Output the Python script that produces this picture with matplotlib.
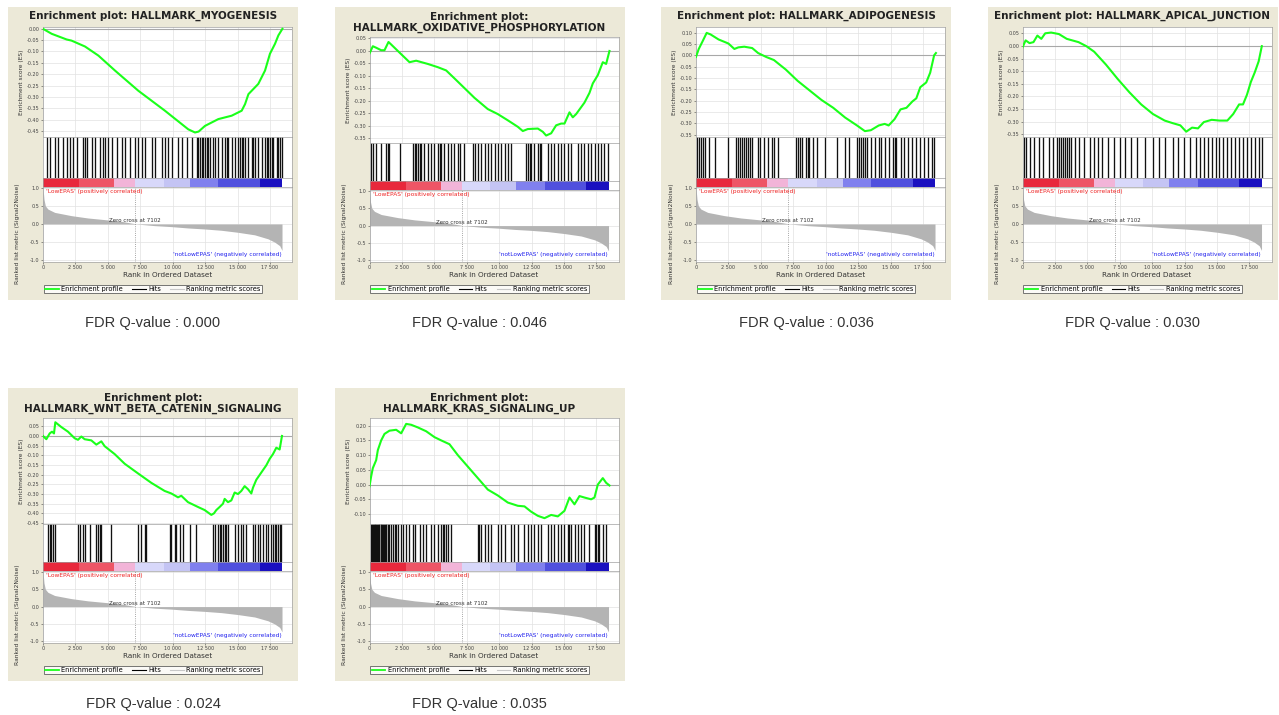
import matplotlib
matplotlib.use("Agg")
import matplotlib.pyplot as plt
from matplotlib.lines import Line2D
from matplotlib.patches import Rectangle
from matplotlib.ticker import MultipleLocator, FuncFormatter

W, H = 1279, 715

# ---- shared ranked list metric (same dataset for every gene set) ----
metric_rank = [0, 77, 180, 385, 900, 2185, 3470, 4754, 6040, 7070, 7196, 8610, 9895,
               11180, 12465, 13750, 15035, 16320, 17350, 17860, 18250, 18430]
metric_val = [1.0, 0.68, 0.50, 0.41, 0.32, 0.23, 0.165, 0.12, 0.073, 0.009, 0.0, -0.046, -0.073,
              -0.11, -0.138, -0.174, -0.23, -0.30, -0.41, -0.50, -0.60, -0.73]
zero_cross = 7100

# colour bar of the ranked list (segment edges in rank units)
bar_edges = [0, 2800, 5500, 7100, 9300, 11300, 13500, 16700, 18450]
bar_colors = ['#e8283c', '#ee5566', '#f2b4d8', '#d8d8fa', '#c4c4f4', '#8080ee', '#5050de', '#1a10c0']

# ---- gene sets ----
titles = ["Enrichment plot: HALLMARK_MYOGENESIS",
          "Enrichment plot:\nHALLMARK_OXIDATIVE_PHOSPHORYLATION",
          "Enrichment plot: HALLMARK_ADIPOGENESIS",
          "Enrichment plot: HALLMARK_APICAL_JUNCTION",
          "Enrichment plot:\nHALLMARK_WNT_BETA_CATENIN_SIGNALING",
          "Enrichment plot:\nHALLMARK_KRAS_SIGNALING_UP"]
fdr_q = ["0.000", "0.046", "0.036", "0.030", "0.024", "0.035"]
es_ylims = [(-0.479, 0.008), (-0.368, 0.056), (-0.363, 0.125),
            (-0.363, 0.075), (-0.455, 0.093), (-0.133, 0.226)]

myo_rank = [0, 670, 1820, 2200, 3240, 4270, 5550, 7350, 9400, 11200, 11720, 12000, 12490,
            13520, 14550, 15320, 15580, 15840, 16600, 17120, 17500, 17890, 18150, 18460]
myo_es = [0.0, -0.022, -0.047, -0.052, -0.078, -0.118, -0.184, -0.273, -0.361, -0.443, -0.457,
          -0.453, -0.428, -0.398, -0.383, -0.361, -0.332, -0.288, -0.243, -0.184, -0.11,
          -0.066, -0.029, 0.0]
myo_hits = [280, 540, 920, 1180, 1570, 1820, 2080, 2340, 2600, 3110, 3240, 3370, 3750, 4010,
            4400, 4650, 4780, 5040, 5290, 5680, 6070, 6320, 6710, 7090, 7350, 7610, 7860,
            8380, 8640, 9150, 9410, 9660, 9920, 10430, 10690, 11080, 11460, 11850, 11950,
            12100, 12230, 12360, 12490, 12620, 12750, 12880, 13130, 13260, 13520, 13780,
            14030, 14160, 14290, 14550, 14800, 15060, 15190, 15320, 15450, 15570, 15830,
            16090, 16220, 16350, 16600, 16860, 17120, 17250, 17370, 17500, 17630, 17760,
            18020, 18140, 18270, 18400]

oxp_rank = [0, 257, 514, 900, 1157, 1465, 1670, 2185, 3084, 3598, 4497, 5268, 5911, 6553,
            7324, 8095, 9122, 9894, 10665, 11436, 11822, 12207, 12978, 13364, 13621, 14007,
            14392, 14778, 15035, 15420, 15677, 15934, 16576, 16962, 17219, 17604, 17990,
            18247, 18504]
oxp_es = [-0.010, 0.019, 0.013, 0.003, 0.003, 0.036, 0.026, 0.0, -0.045, -0.039, -0.052,
          -0.065, -0.078, -0.110, -0.149, -0.188, -0.233, -0.253, -0.278, -0.304, -0.321,
          -0.313, -0.311, -0.324, -0.339, -0.330, -0.298, -0.291, -0.291, -0.246, -0.266,
          -0.253, -0.207, -0.168, -0.130, -0.097, -0.045, -0.052, 0.0]
oxp_hits = [130, 260, 510, 900, 1290, 1410, 1540, 2390, 3340, 3470, 3600, 3730, 3860, 3980,
            4240, 4500, 4750, 5010, 5270, 5400, 5530, 5780, 6040, 6300, 6550, 6810, 6940,
            7320, 7970, 8100, 8350, 8610, 8870, 9120, 9380, 9640, 9890, 10150, 10410, 10670,
            10920, 12080, 12210, 12340, 12460, 12720, 12980, 13110, 13240, 13750, 14010,
            14260, 14520, 14780, 15030, 15290, 15550, 16060, 16320, 16570, 16830, 17090,
            17350, 17600, 17860, 18120, 18380]

adi_rank = [0, 213, 518, 823, 1128, 1738, 2501, 2958, 3263, 3721, 4331, 4788, 5398, 6009,
            6923, 7838, 8754, 9669, 10583, 11498, 12413, 13024, 13481, 14091, 14549, 14854,
            15311, 15769, 16226, 16684, 16989, 17294, 17752, 18057, 18362, 18500]
adi_es = [-0.007, 0.028, 0.063, 0.099, 0.092, 0.070, 0.052, 0.028, 0.035, 0.038, 0.032,
          0.010, -0.007, -0.021, -0.063, -0.113, -0.155, -0.197, -0.232, -0.275, -0.310,
          -0.335, -0.331, -0.310, -0.303, -0.310, -0.282, -0.239, -0.232, -0.204, -0.190,
          -0.141, -0.120, -0.077, 0.0, 0.01]
adi_hits = [60, 210, 370, 520, 670, 980, 1430, 2500, 3110, 3260, 3420, 3570, 3720, 3870,
            4030, 4180, 4330, 4790, 4940, 5250, 5550, 5860, 6010, 6310, 7690, 7840, 7990,
            8140, 8450, 8600, 8750, 9060, 9360, 9970, 10890, 11500, 11800, 12410, 12570,
            12720, 12870, 13020, 13180, 13480, 13790, 14090, 14240, 14550, 14850, 15160,
            15310, 15460, 15770, 16070, 16380, 16680, 16990, 17290, 17600, 17900, 18210, 18360]

api_rank = [0, 242, 544, 846, 1148, 1450, 1752, 2205, 2809, 3413, 4320, 4924, 5527, 6433,
            7339, 8245, 9151, 10057, 10963, 11567, 12171, 12624, 13077, 13530, 13983, 14587,
            15191, 15795, 16248, 16701, 17003, 17305, 17607, 17909, 18211, 18453]
api_es = [-0.006, 0.022, 0.011, 0.015, 0.041, 0.028, 0.050, 0.053, 0.047, 0.028, 0.015,
          -0.001, -0.023, -0.074, -0.131, -0.184, -0.232, -0.270, -0.296, -0.306, -0.315,
          -0.340, -0.324, -0.327, -0.302, -0.293, -0.296, -0.296, -0.270, -0.232, -0.232,
          -0.194, -0.143, -0.105, -0.061, -0.001]
api_hits = [90, 240, 540, 850, 1300, 1600, 2050, 2360, 2660, 2810, 2960, 3110, 3260, 3410,
            3560, 3710, 4020, 4320, 4770, 5220, 5530, 5830, 6130, 6580, 7040, 7490, 7940,
            8400, 8850, 9450, 10060, 10510, 10960, 11570, 12020, 12470, 12930, 13380, 13680,
            13980, 14280, 14590, 14890, 15190, 15490, 15790, 16100, 16400, 16700, 17000,
            17300, 17610, 17910, 18210, 18450]

wnt_rank = [0, 257, 514, 694, 848, 951, 1414, 1928, 2442, 2699, 2956, 3212, 3727, 4112,
            4498, 4754, 5526, 6297, 7325, 8353, 9381, 9895, 10409, 10666, 11180, 11951,
            12465, 12979, 13184, 13364, 13621, 13878, 14007, 14264, 14521, 14778, 15035,
            15292, 15549, 15806, 16062, 16191, 16448, 16705, 16962, 17219, 17476, 17733,
            17990, 18247, 18427]
wnt_es = [0.0, -0.017, 0.013, 0.022, 0.013, 0.071, 0.046, 0.022, -0.012, -0.020, -0.003,
          -0.017, -0.023, -0.045, -0.028, -0.053, -0.094, -0.144, -0.194, -0.243, -0.285,
          -0.298, -0.318, -0.310, -0.343, -0.368, -0.384, -0.409, -0.401, -0.384, -0.368,
          -0.351, -0.326, -0.343, -0.334, -0.293, -0.301, -0.285, -0.260, -0.276, -0.298,
          -0.268, -0.227, -0.202, -0.177, -0.152, -0.119, -0.094, -0.061, -0.070, 0.0]
wnt_hits = [390, 510, 640, 770, 900, 2700, 2830, 3080, 3210, 3600, 4110, 4240, 4370, 4500,
            5270, 7320, 7580, 7840, 7970, 9770, 9890, 10150, 10280, 10540, 10790, 11310,
            11820, 13110, 13240, 13490, 13620, 13750, 13880, 14010, 14140, 14260, 14780,
            15030, 15290, 15420, 15680, 16190, 16320, 16580, 16710, 16960, 17220, 17350,
            17600, 17730, 17860, 17990, 18120, 18250, 18380]

kra_rank = [0, 128, 257, 514, 643, 900, 1157, 1542, 2056, 2442, 2827, 3212, 3727, 4369,
            5011, 5526, 6168, 6810, 7582, 8353, 9124, 9895, 10666, 11437, 11951, 12465,
            12979, 13493, 14007, 14521, 15035, 15420, 15806, 16191, 16577, 17091, 17347,
            17604, 17990, 18247, 18504]
kra_es = [-0.006, 0.028, 0.056, 0.083, 0.117, 0.150, 0.172, 0.183, 0.186, 0.174, 0.206,
          0.203, 0.194, 0.181, 0.161, 0.150, 0.137, 0.100, 0.061, 0.022, -0.017, -0.037,
          -0.061, -0.072, -0.074, -0.092, -0.106, -0.114, -0.103, -0.108, -0.089, -0.044,
          -0.067, -0.039, -0.044, -0.050, -0.044, 0.0, 0.022, 0.006, -0.003]
kra_hits = [130, 200, 260, 330, 390, 460, 510, 590, 640, 720, 770, 850, 900, 980, 1030,
            1110, 1160, 1240, 1290, 1410, 1540, 1670, 1800, 1930, 2060, 2180, 2440, 2570,
            2830, 3080, 3340, 3470, 3860, 4110, 4370, 4750, 5010, 5270, 5530, 5650, 5780,
            5910, 6040, 6300, 8350, 8480, 8610, 8870, 9120, 9380, 9890, 10150, 10410, 10920,
            11180, 11440, 11950, 12210, 12460, 12720, 12980, 13240, 13750, 14010, 14260,
            14520, 14780, 15030, 15290, 15420, 15550, 15810, 16060, 16320, 16570, 16960,
            17350, 17480, 17600, 17730, 17990, 18250]

es_ranks = [myo_rank, oxp_rank, adi_rank, api_rank, wnt_rank, kra_rank]
es_scores = [myo_es, oxp_es, adi_es, api_es, wnt_es, kra_es]
hit_lists = [myo_hits, oxp_hits, adi_hits, api_hits, wnt_hits, kra_hits]

BEIGE = '#ece9d8'
GRID = '#e2e2e2'
XMAX = 19200

fig = plt.figure(figsize=(W / 100, H / 100), dpi=100)
fig.patch.set_facecolor('white')


def px_axes(left, top, width, height):
    return fig.add_axes([left / W, 1 - (top + height) / H, width / W, height / H])


def thin_frame(ax):
    for s in ax.spines.values():
        s.set_color('#a0a0a0')
        s.set_linewidth(0.5)
    ax.tick_params(labelsize=3.5, length=1.5, width=0.4, pad=1, colors='#444444')


def draw_panel(ox, oy, i):
    fig.add_artist(Rectangle((ox / W, 1 - (oy + 293) / H), 290 / W, 293 / H,
                             transform=fig.transFigure, facecolor=BEIGE,
                             edgecolor='none', zorder=-5))
    two_lines = '\n' in titles[i]
    fig.text((ox + 145) / W, 1 - (oy + (15.5 if two_lines else 8.7)) / H, titles[i],
             ha='center', va='center', fontsize=7.5, fontweight='bold', color='#222222',
             linespacing=1.0)

    top = oy + (30 if two_lines else 20)
    total = oy + 255 - top
    h_es, h_hit, h_bar = total * 110 / 234, total * 40 / 234, total * 9 / 234
    h_met = total - h_es - h_hit - h_bar
    left, width = ox + 35, 249

    # enrichment score
    ax = px_axes(left, top, width, h_es)
    ax.plot(es_ranks[i], es_scores[i], color='#1aff1a', lw=1.5, zorder=3)
    ax.axhline(0, color='#a8a8a8', lw=0.8, zorder=2)
    ax.set_xlim(0, XMAX)
    ax.set_ylim(*es_ylims[i])
    ax.xaxis.set_major_locator(MultipleLocator(2500))
    ax.yaxis.set_major_locator(MultipleLocator(0.05))
    ax.yaxis.set_major_formatter(FuncFormatter(lambda v, p: f"{v:.2f}"))
    ax.set_xticklabels([])
    ax.grid(True, color=GRID, lw=0.5)
    ax.tick_params(axis='x', length=0)
    thin_frame(ax)
    ax.set_ylabel("Enrichment score (ES)", fontsize=4.2, labelpad=2, color='#333333')

    # hits
    axh = px_axes(left, top + h_es, width, h_hit)
    axh.vlines(hit_lists[i], 0, 1, color='#111111', lw=0.95)
    axh.set_xlim(0, XMAX)
    axh.set_ylim(0, 1)
    axh.set_xticks([])
    axh.set_yticks([])
    thin_frame(axh)

    # ranked list colour bar
    axb = px_axes(left, top + h_es + h_hit, width, h_bar)
    axb.bar(bar_edges[:-1], 1, width=[b - a for a, b in zip(bar_edges[:-1], bar_edges[1:])],
            align='edge', color=bar_colors, linewidth=0)
    axb.set_xlim(0, XMAX)
    axb.set_ylim(0, 1)
    axb.set_xticks([])
    axb.set_yticks([])
    thin_frame(axb)

    # ranked list metric
    axm = px_axes(left, top + h_es + h_hit + h_bar, width, h_met)
    axm.fill_between(metric_rank, metric_val, 0, color='#b4b4b4', lw=0, zorder=2)
    axm.axvline(zero_cross, color='#888888', ls=':', lw=0.6, zorder=3)
    axm.set_xlim(0, XMAX)
    axm.set_ylim(-1.05, 1.03)
    axm.xaxis.set_major_locator(MultipleLocator(2500))
    axm.xaxis.set_major_formatter(FuncFormatter(lambda v, p: f"{int(v):,}".replace(',', ' ')))
    axm.yaxis.set_major_locator(MultipleLocator(0.5))
    axm.yaxis.set_major_formatter(FuncFormatter(lambda v, p: f"{v:.1f}"))
    axm.grid(True, color=GRID, lw=0.5)
    thin_frame(axm)
    axm.text(250, 0.97, "'LowEPAS' (positively correlated)", color='#ee2222', fontsize=4.2,
             ha='left', va='top')
    axm.text(18400, -0.84, "'notLowEPAS' (negatively correlated)", color='#2222ee',
             fontsize=4.2, ha='right', va='center')
    axm.text(zero_cross, 0.03, "Zero cross at 7102", color='#333333', fontsize=4.0,
             ha='center', va='bottom')
    axm.set_xlabel("Rank in Ordered Dataset", fontsize=5.2, labelpad=1.2, color='#333333')
    fig.text((ox + 10) / W, 1 - (oy + 227) / H, "Ranked list metric (Signal2Noise)",
             rotation=90, ha='center', va='center', fontsize=4.3, color='#333333')

    handles = [Line2D([], [], color='#1aff1a', lw=1.3),
               Line2D([], [], color='black', lw=0.8),
               Line2D([], [], color='#c8c8c8', lw=0.8)]
    leg = axm.legend(handles, ["Enrichment profile", "Hits", "Ranking metric scores"],
                     loc='center', bbox_to_anchor=((ox + 145) / W, 1 - (oy + 282) / H),
                     bbox_transform=fig.transFigure, ncol=3, fontsize=4.8, frameon=True,
                     fancybox=False, edgecolor='#555555', handlelength=2.0,
                     columnspacing=1.4, borderpad=0.2, handletextpad=0.4)
    leg.get_frame().set_linewidth(0.7)

    fig.text((ox + 145) / W, 1 - (oy + 316) / H, "FDR Q-value : " + fdr_q[i],
             ha='center', va='center', fontsize=10.5, family='Liberation Sans',
             color='#333333')


for i in range(6):
    col, row = i % 4, i // 4
    draw_panel(8 + 326.5 * col, 7 + 381 * row, i)

fig.savefig("out.png", dpi=100, facecolor='white')
